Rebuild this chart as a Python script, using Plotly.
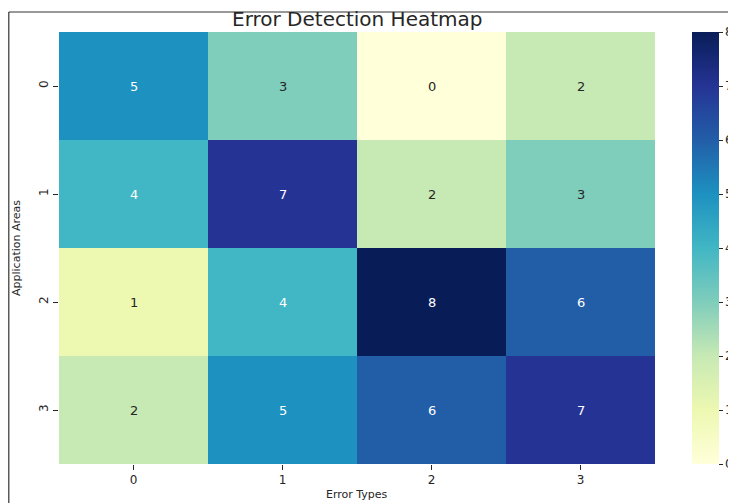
import plotly.graph_objects as go

error_types = [0, 1, 2, 3]
app_areas = [0, 1, 2, 3]
values = [
    [5, 3, 0, 2],
    [4, 7, 2, 3],
    [1, 4, 8, 6],
    [2, 5, 6, 7],
]
cbar_ticks = [0, 1, 2, 3, 4, 5, 6, 7, 8]

ylgnbu = ["#ffffd9", "#edf8b1", "#c7e9b4", "#7fcdbb", "#41b6c4",
          "#1d91c0", "#225ea8", "#253494", "#081d58"]
cscale = [[i / (len(ylgnbu) - 1), c] for i, c in enumerate(ylgnbu)]

FONT = "DejaVu Sans"
TXT = "#262626"
OFF = 8  # page body margin
W, H = 736 - OFF, 503 - OFF
L = 59 - OFF
T = 32 - OFF
R = W - (655 - OFF)
B = H - (464 - OFF)
pw, ph = W - L - R, H - T - B


def px(xr):
    return (xr - OFF - L) / pw


def py(yr):
    return 1 - (yr - OFF - T) / ph


fig = go.Figure(go.Heatmap(
    z=values, x=error_types, y=app_areas,
    colorscale=cscale, zmin=0, zmax=8,
    colorbar=dict(
        thickness=27, len=1, lenmode="fraction", y=0.5, yanchor="middle",
        x=px(692), xanchor="left", xpad=0, ypad=0,
        outlinewidth=0, ticks="outside", ticklen=4, tickcolor=TXT,
        tickvals=cbar_ticks, tickfont=dict(family=FONT, size=12, color=TXT),
    ),
    hoverinfo="skip",
))

annotations = []
for i, row in enumerate(values):
    for j, v in enumerate(row):
        annotations.append(dict(
            x=error_types[j], y=app_areas[i], text=str(v), showarrow=False,
            font=dict(family=FONT, size=13, color="white" if v >= 4 else TXT),
        ))

annotations.append(dict(
    xref="paper", yref="paper", x=px(16), y=py(248), xanchor="center", yanchor="middle",
    text="Application Areas", textangle=-90, showarrow=False,
    font=dict(family=FONT, size=11, color=TXT),
))
annotations.append(dict(
    xref="paper", yref="paper", x=px(357), y=py(494), xanchor="center", yanchor="middle",
    text="Error Types", showarrow=False, font=dict(family=FONT, size=11, color=TXT),
))
annotations.append(dict(
    xref="paper", yref="paper", x=px(357), y=py(19), xanchor="center", yanchor="middle",
    text="Error Detection Heatmap", showarrow=False,
    font=dict(family=FONT, size=20, color=TXT),
))

edge_x = px(OFF + 0.8)
shapes = [
    dict(type="line", xref="paper", yref="paper",
         x0=edge_x, x1=px(760), y0=py(12), y1=py(12),
         line=dict(color="#333333", width=1.2)),
    dict(type="line", xref="paper", yref="paper",
         x0=edge_x, x1=edge_x, y0=py(12), y1=py(520),
         line=dict(color="#333333", width=1.2)),
]

fig.update_layout(
    width=W, height=H,
    margin=dict(l=L, r=R, t=T, b=B, pad=0, autoexpand=False),
    paper_bgcolor="white", plot_bgcolor="white",
    font=dict(family=FONT, color=TXT),
    annotations=annotations, shapes=shapes,
    xaxis=dict(tickvals=error_types, ticks="outside", ticklen=5, tickcolor=TXT,
               showgrid=False, zeroline=False, showline=False, automargin=False,
               tickfont=dict(family=FONT, size=12, color=TXT),
               range=[-0.5, 3.5]),
    yaxis=dict(tickvals=app_areas, ticks="outside", ticklen=5, tickcolor=TXT,
               showgrid=False, zeroline=False, showline=False, tickangle=-90,
               automargin=False,
               tickfont=dict(family=FONT, size=12, color=TXT),
               range=[3.5, -0.5]),
)

fig.write_html("out.html")
